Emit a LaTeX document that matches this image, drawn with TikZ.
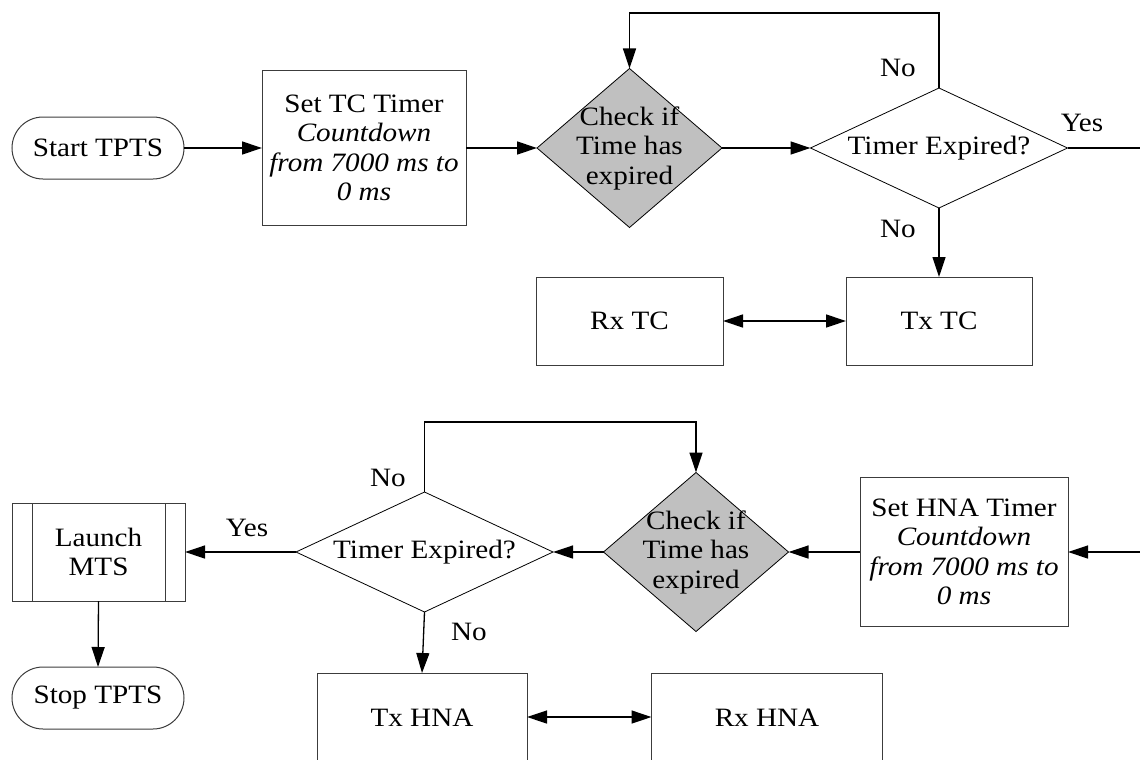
\documentclass[tikz,border=0pt]{standalone}
\usepackage{fontspec}
\setmainfont{Liberation Serif}[FakeStretch=1.1]
\usetikzlibrary{shapes.geometric,arrows.meta,calc}
\definecolor{chkgray}{RGB}{192,192,192}
\definecolor{edge}{RGB}{60,60,60}
\begin{document}
\begin{tikzpicture}[x=1pt,y=-1pt,
  every node/.style={font=\fontsize{26.5}{29.5}\selectfont, align=center, inner sep=0pt, outer sep=0pt},
  procbox/.style={draw=edge, line width=1pt, rectangle, fill=white},
  termbox/.style={draw=edge, line width=1pt, rectangle, rounded corners=31pt,
    minimum width=172pt, minimum height=62pt},
  decide/.style={draw=black, line width=0.8pt, diamond,
    minimum width=257pt, minimum height=120pt},
  checkbox/.style={draw=black, line width=0.8pt, diamond, fill=chkgray,
    minimum width=185pt, minimum height=159pt},
  conn/.style={line width=1.3pt},
  arr/.style={conn, -{Triangle[length=20pt,width=13pt]}},
  darr/.style={conn, {Triangle[length=20pt,width=13pt]}-{Triangle[length=20pt,width=13pt]}}
]
\useasboundingbox (0,0) rectangle (1140,760);

% ---- TC phase (top row)
\node[termbox] (start) at (98,148) {Start TPTS};
\node[procbox, minimum width=204pt, minimum height=154pt] (settc) at (364,148)
  {Set TC Timer\\\textit{Countdown}\\\textit{from 7000 ms to}\\\textit{0 ms}};
\node[checkbox] (chk1) at (629.5,148) {};
\node (chk1t) at (629.5,148) {Check if\\Time has\\expired};
\node[decide] (exp1) at (939,148) {};
\node (exp1t) at (939,148) {Timer Expired?};
\node[procbox, minimum width=187pt, minimum height=88pt] (rxtc) at (629.5,321) {Rx TC};
\node[procbox, minimum width=186pt, minimum height=88pt] (txtc) at (939,321) {Tx TC};
\coordinate (outR) at (1140,148);

\draw[arr] (start) -- (settc);
\draw[arr] (settc) -- (chk1.west);
\draw[arr] (chk1.east) -- (exp1.west);
\draw[arr] (exp1.north) -- ++(0,-75) -| (chk1.north);
\draw[conn] (exp1.east) -- (outR);
\draw[arr] (exp1.south) -- (txtc.north);
\draw[darr] (rxtc) -- (txtc);

\node (no1) at (898,68) {No};
\node (yes1) at (1082,123) {Yes};
\node (no2) at (898,229) {No};

% ---- HNA phase (bottom row)
\coordinate (inR) at (1140,552);
\node[procbox, minimum width=208pt, minimum height=149pt] (hna) at (964,552)
  {Set HNA Timer\\\textit{Countdown}\\\textit{from 7000 ms to}\\\textit{0 ms}};
\node[checkbox] (chk2) at (696,552) {};
\node (chk2t) at (696,552) {Check if\\Time has\\expired};
\node[decide] (exp2) at (424.5,552) {};
\node (exp2t) at (424.5,552) {Timer Expired?};
\node[procbox, minimum width=173pt, minimum height=98pt] (mts) at (98.5,552) {Launch\\MTS};
\draw[edge, line width=1pt] ([xshift=20pt]mts.north west) -- ([xshift=20pt]mts.south west)
  ([xshift=-20pt]mts.north east) -- ([xshift=-20pt]mts.south east);
\node[termbox] (stop) at (98,698) {Stop TPTS};
\node[procbox, minimum width=210pt, minimum height=90pt] (txhna) at (422,718) {Tx HNA};
\node[procbox, minimum width=231pt, minimum height=90pt] (rxhna) at (767,718) {Rx HNA};

\draw[arr] (inR) -- (hna.east);
\draw[arr] (hna.west) -- (chk2.east);
\draw[arr] (chk2.west) -- (exp2.east);
\draw[arr] (exp2.north) -- ++(0,-70) -| (chk2.north);
\draw[arr] (exp2.west) -- (mts.east);
\draw[arr] (mts.south) -- (stop.north);
\draw[arr] (exp2.south) -- (txhna.north);
\draw[darr] (txhna.east |- 0,717) -- (rxhna.west |- 0,717);

\node (no3) at (388,478) {No};
\node (yes2) at (247,528) {Yes};
\node (no4) at (469,632) {No};
\end{tikzpicture}
\end{document}
